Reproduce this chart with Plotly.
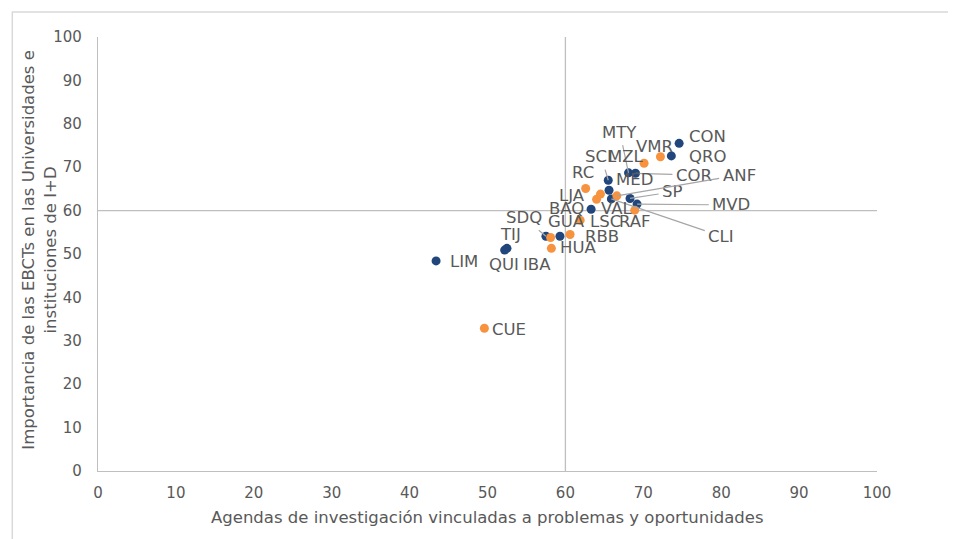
import plotly.graph_objects as go

# ---- data ----
blue_labels = ["CON", "QRO", "MTY", "COR", "SCL", "MED", "CLI", "SP", "MVD", "BAQ", "SDQ", "GUA", "TIJ", "QUI", "LIM"]
blue_x = [74.6, 73.6, 68.1, 69.0, 65.5, 65.6, 65.9, 68.3, 69.2, 63.3, 57.5, 59.3, 52.5, 52.2, 43.4]
blue_y = [75.5, 72.6, 68.7, 68.6, 67.0, 64.7, 62.7, 62.8, 61.5, 60.3, 54.1, 54.1, 51.3, 50.9, 48.4]

orange_labels = ["VMR", "MZL", "RC", "VAL", "LJA", "ANF", "RAF", "LSC", "RBB", "IBA", "HUA", "CUE"]
orange_x = [72.2, 70.1, 62.6, 64.5, 64.0, 66.6, 68.9, 61.9, 60.6, 58.1, 58.2, 49.6]
orange_y = [72.4, 70.9, 65.1, 63.8, 62.6, 63.4, 60.1, 57.8, 54.5, 53.8, 51.3, 32.9]

x_ticks = [0, 10, 20, 30, 40, 50, 60, 70, 80, 90, 100]
y_ticks = [0, 10, 20, 30, 40, 50, 60, 70, 80, 90, 100]
x_ref = 60
y_ref = 60

x_title = "Agendas de investigación vinculadas a problemas y oportunidades"
y_title = "Importancia de las EBCTs en las Universidades e<br>instituciones de I+D"

# ---- label placement (style) ----
label_pos = {
    "CON": (78.2, 77.0), "QRO": (78.2, 72.4), "VMR": (71.5, 74.7), "MTY": (67.0, 78.1),
    "MZL": (67.8, 72.4), "SCL": (64.6, 72.4), "COR": (76.5, 68.2), "ANF": (82.3, 68.2),
    "RC": (62.3, 68.7), "MED": (68.9, 67.1), "SP": (73.7, 64.3), "LJA": (60.8, 63.4),
    "MVD": (81.3, 61.3), "BAQ": (60.2, 60.4), "VAL": (66.6, 60.4), "RAF": (68.9, 57.4),
    "LSC": (65.1, 57.4), "CLI": (80.0, 54.1), "SDQ": (54.7, 58.3), "GUA": (60.1, 57.4),
    "RBB": (64.7, 54.1), "TIJ": (52.9, 54.4), "HUA": (61.6, 51.4), "QUI": (52.1, 47.5),
    "IBA": (56.4, 47.5), "LIM": (47.0, 48.2), "CUE": (52.8, 32.7),
}
leaders = {"MTY", "SCL", "COR", "ANF", "SP", "MVD", "CLI", "SDQ"}

BLUE = "#21467c"
ORANGE = "#f7933f"
GREY_TXT = "#595959"
LINE = "#bfbfbf"
FONT = "DejaVu Sans"
LABEL_SIZE = 16.5

fig = go.Figure()
fig.add_trace(go.Scatter(x=blue_x, y=blue_y, mode="markers", text=blue_labels,
                         marker=dict(color=BLUE, size=9), showlegend=False, cliponaxis=False))
fig.add_trace(go.Scatter(x=orange_x, y=orange_y, mode="markers", text=orange_labels,
                         marker=dict(color=ORANGE, size=9), showlegend=False, cliponaxis=False))

annotations = []
for labs, xs, ys in ((blue_labels, blue_x, blue_y), (orange_labels, orange_x, orange_y)):
    for lab, px, py in zip(labs, xs, ys):
        lx, ly = label_pos[lab]
        if lab in leaders:
            annotations.append(dict(x=px, y=py, xref="x", yref="y", ax=lx, ay=ly,
                                    axref="x", ayref="y", text=lab, showarrow=True,
                                    arrowhead=0, arrowwidth=1.2, arrowcolor="#a6a6a6",
                                    standoff=0, startstandoff=2,
                                    font=dict(family=FONT, size=LABEL_SIZE, color=GREY_TXT)))
        else:
            annotations.append(dict(x=lx, y=ly, xref="x", yref="y", text=lab, showarrow=False,
                                    font=dict(family=FONT, size=LABEL_SIZE, color=GREY_TXT)))

annotations.append(dict(x=0.4994, y=-0.108, xref="paper", yref="paper", text=x_title,
                        showarrow=False, xanchor="center", yanchor="middle",
                        font=dict(family=FONT, size=16.5, color=GREY_TXT)))
annotations.append(dict(x=-0.075, y=0.509, xref="paper", yref="paper", text=y_title,
                        showarrow=False, xanchor="center", yanchor="middle", textangle=-90,
                        font=dict(family=FONT, size=16.5, color=GREY_TXT)))

shapes = [
    # outer frame
    dict(type="rect", xref="paper", yref="paper", x0=-0.110, x1=1.3, y0=-0.4, y1=1.0576,
         line=dict(color="#d9d9d9", width=1.5), layer="below"),
    # reference lines
    dict(type="line", xref="x", yref="y", x0=0, x1=101.5, y0=y_ref, y1=y_ref,
         line=dict(color=LINE, width=1.3), layer="below"),
    dict(type="line", xref="x", yref="y", x0=x_ref, x1=x_ref, y0=0, y1=100.5,
         line=dict(color=LINE, width=1.3), layer="below"),
]

fig.update_layout(
    width=956, height=539,
    margin=dict(l=90, r=87, t=29, b=76),
    paper_bgcolor="white", plot_bgcolor="white",
    font=dict(family=FONT, color=GREY_TXT),
    annotations=annotations, shapes=shapes,
    xaxis=dict(range=[0, 100], tickvals=x_ticks, showgrid=False, zeroline=False,
               showline=True, linecolor=LINE, linewidth=1.3,
               ticks="outside", ticklen=8, tickcolor="rgba(0,0,0,0)",
               tickfont=dict(family=FONT, size=15, color=GREY_TXT)),
    yaxis=dict(range=[0, 100], tickvals=y_ticks, showgrid=False, zeroline=False,
               showline=True, linecolor=LINE, linewidth=1.3,
               ticks="outside", ticklen=12, tickcolor="rgba(0,0,0,0)",
               tickfont=dict(family=FONT, size=15, color=GREY_TXT)),
)

fig.write_html("out.html")
